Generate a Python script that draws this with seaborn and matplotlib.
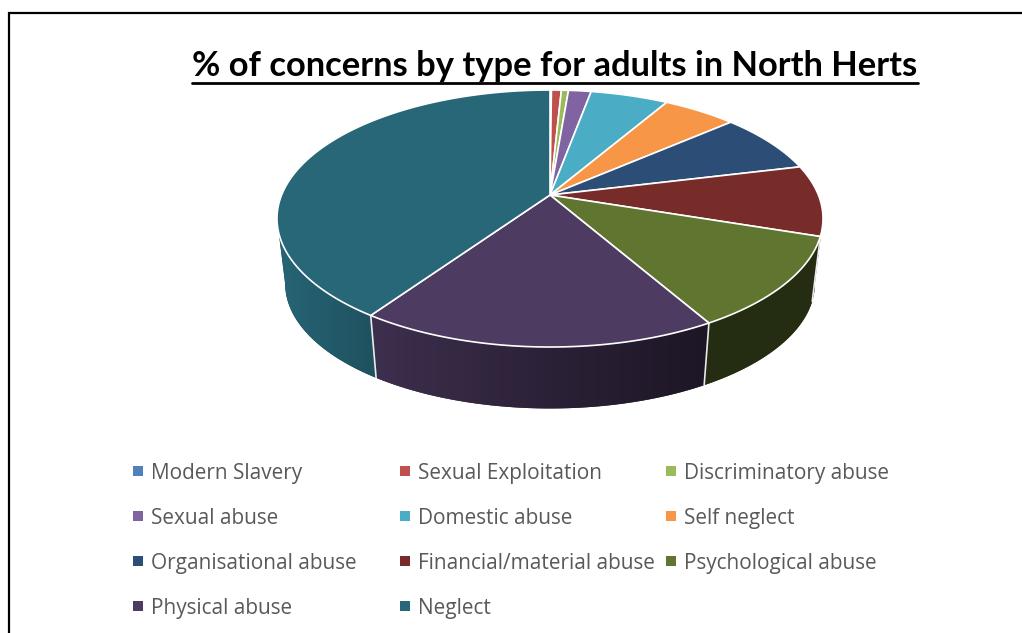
import numpy as np
import pandas as pd
import matplotlib
matplotlib.use("Agg")
import matplotlib.pyplot as plt
from matplotlib.patches import Polygon
import seaborn as sns

categories = ["Modern Slavery", "Sexual Exploitation", "Discriminatory abuse",
              "Sexual abuse", "Domestic abuse", "Self neglect",
              "Organisational abuse", "Financial/material abuse", "Psychological abuse",
              "Physical abuse", "Neglect"]
shares = [0.1, 0.7, 0.5, 1.6, 5.5, 5.2, 7.6, 8.9, 11.6, 17.9, 40.4]
slice_colors = ["#4f81bd", "#c0504d", "#9bbb59", "#8064a2", "#4bacc6", "#f79646",
                "#2c4d75", "#772c2a", "#5f7530", "#4d3b62", "#276778"]
chart_title = "% of concerns by type for adults in North Herts"

sns.set_theme(style="white")
plt.rcParams["font.family"] = ["Open Sans", "DejaVu Sans"]

fig = plt.figure(figsize=(10.22, 6.33), dpi=100)
ax = fig.add_axes([0, 0, 1, 1])
ax.set_xlim(0, 1022)
ax.set_ylim(633, 0)
ax.axis("off")

# Perspective projection of the unit disc onto the page
CX, CY = 550, 195
A, B, K = 268.4, 124.2, 0.183
BASE_SCALE, BASE_DROP = 0.97, 66


def project(theta):
    x, y = np.sin(theta), np.cos(theta)
    w = 1 + K * y
    return A * x / w, -B * y / w


def rim(theta, base=False):
    px, py = project(theta)
    if base:
        return CX + BASE_SCALE * px, CY + BASE_SCALE * py + BASE_DROP
    return CX + px, CY + py


def side_shade(px):
    return np.interp(px, [277, 370, 550, 705, 823], [0.98, 0.80, 0.56, 0.38, 0.38])


values = np.asarray(shares, dtype=float)
edges = np.concatenate([[0], np.cumsum(values)]) / values.sum() * 2 * np.pi
palette = sns.color_palette(slice_colors)

# Extruded wall: a horizontal gradient for each slice, clipped to its outline.
# The wall stops where the projected rim is widest, so its end edge is the silhouette.
gradient_x = np.arange(270, 830)
for start, stop, color in zip(edges[:-1], edges[1:], palette):
    ts = np.linspace(start, stop, 400)
    ts = ts[np.cos(ts) < -K]
    if len(ts) < 2:
        continue
    top_x, top_y = rim(ts)
    low_x, low_y = rim(ts, True)
    outline = np.column_stack([np.r_[top_x, low_x[::-1]], np.r_[top_y, low_y[::-1]]])
    wall = Polygon(outline, closed=True, facecolor=tuple(np.array(color) * 0.6),
                   edgecolor="none", transform=ax.transData, zorder=2)
    ax.add_patch(wall)
    ramp = np.clip(np.outer(side_shade(gradient_x), color), 0, 1)[np.newaxis, :, :]
    image = ax.imshow(ramp, extent=(270, 830, 430, 200), aspect="auto",
                      interpolation="bilinear", zorder=2.5)
    image.set_clip_path(wall)

# Slice separators on the wall
for edge in edges:
    if np.cos(edge) < -K:
        (x0, y0), (x1, y1) = rim(edge), rim(edge, True)
        ax.plot([x0, x1], [y0, y1], color="white", lw=1.2, alpha=0.9, zorder=3)

# Top face of the pie
for start, stop, color in zip(edges[:-1], edges[1:], palette):
    ts = np.linspace(start, stop, max(3, int((stop - start) / 0.01)))
    px, py = rim(ts)
    ax.fill(np.r_[CX, px], np.r_[CY, py], facecolor=color, edgecolor="white",
            lw=1.2, joinstyle="round", zorder=4)

# Title with its underline
title = ax.text(555, 66.5, chart_title, ha="center", va="center", fontsize=24.8,
                fontweight="bold", family=["Lato", "DejaVu Sans"], color="black", zorder=6)
fig.canvas.draw()
box = title.get_window_extent()
ax.plot([box.x0, box.x1], [82.5, 82.5], color="black", lw=2, zorder=6)

# Legend laid out as a three-column grid
column_x = [138, 405, 671]
row_y = [471, 516, 561, 606]
legend_df = pd.DataFrame({
    "category": categories,
    "x": [column_x[i % 3] for i in range(len(categories))],
    "y": [row_y[i // 3] for i in range(len(categories))],
})
sns.scatterplot(data=legend_df, x="x", y="y", hue="category", hue_order=categories,
                palette=slice_colors, marker="s", s=52, linewidth=0, legend=False,
                ax=ax, zorder=5)
ax.set_xlim(0, 1022)
ax.set_ylim(633, 0)
ax.axis("off")
for _, row in legend_df.iterrows():
    ax.text(row["x"] + 13, row["y"], row["category"], ha="left", va="center_baseline",
            fontsize=14.95, color="#595959", zorder=6)

# Outer chart border, running off the top-right and bottom-left
ax.plot([8.5, 8.5, 1022], [633, 12.5, 12.5], color="black", lw=1.6,
        solid_joinstyle="miter", zorder=7)

fig.savefig("out.png", dpi=100, facecolor="white")
